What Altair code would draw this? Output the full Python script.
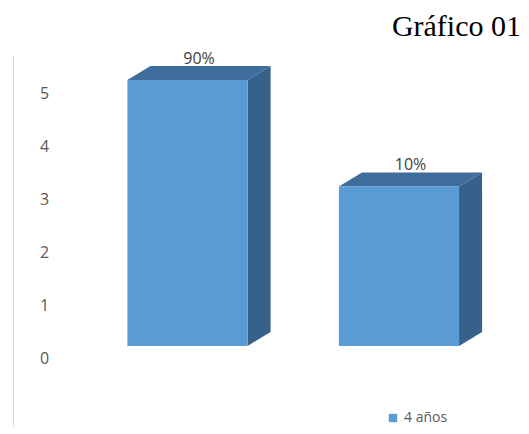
import altair as alt
import pandas as pd

# ---- data ----
categories = ["Grupo 1", "Grupo 2"]
values = [5, 3]
pct_labels = ["90%", "10%"]
series_name = "4 años"
y_ticks = [0, 1, 2, 3, 4, 5]

# ---- style constants (bar geometry in data units) ----
HALF_W = 0.284   # half width of bar front face (x units)
DX = 0.109       # 3D depth horizontally (x units)
DY = 0.263       # 3D depth vertically (y units)

idx = list(range(len(categories)))

front = pd.DataFrame({
    "cat": categories,
    "x0": [i - HALF_W for i in idx],
    "x1": [i + HALF_W for i in idx],
    "y0": [0 for _ in values],
    "y1": values,
    "serie": [series_name] * len(values),
})

side_rows = []
top_rows = []
for c, i, v in zip(categories, idx, values):
    side_rows.append({"cat": c, "x": i + HALF_W, "ya": v, "yb": 0})
    side_rows.append({"cat": c, "x": i + HALF_W + DX, "ya": v + DY, "yb": DY})
    top_rows.append({"cat": c, "y": v, "xa": i - HALF_W, "xb": i + HALF_W})
    top_rows.append({"cat": c, "y": v + DY, "xa": i - HALF_W + DX, "xb": i + HALF_W + DX})
side = pd.DataFrame(side_rows)
top = pd.DataFrame(top_rows)

labels_df = pd.DataFrame({
    "cat": categories,
    "x": [i + DX / 2 for i in idx],
    "y": [v + DY for v in values],
    "label": pct_labels,
})

xscale = alt.Scale(domain=[-0.825, 1.577], nice=False, zero=False)
yscale = alt.Scale(domain=[-1.504, 5.47], nice=False, zero=False)

yaxis = alt.Axis(
    values=y_ticks, format="d", grid=False, ticks=False, tickSize=0,
    labelAlign="center", labelPadding=-31, labelOffset=13,
    labelFont="Open Sans", labelFontSize=16, labelColor="#595959",
    domainColor="#d9d9d9", domainWidth=1, title=None,
)

side_layer = alt.Chart(side).mark_area(orient="vertical", color="#37618b").encode(
    x=alt.X("x:Q", scale=xscale, axis=None),
    y=alt.Y("ya:Q", scale=yscale, axis=yaxis),
    y2="yb:Q",
    detail="cat:N",
)

top_layer = alt.Chart(top).mark_area(orient="horizontal", color="#3e6c9b").encode(
    y=alt.Y("y:Q", scale=yscale),
    x=alt.X("xa:Q", scale=xscale, axis=None),
    x2="xb:Q",
    detail="cat:N",
)

front_layer = alt.Chart(front).mark_rect(strokeWidth=0).encode(
    x=alt.X("x0:Q", scale=xscale, axis=None),
    x2="x1:Q",
    y=alt.Y("y0:Q", scale=yscale),
    y2="y1:Q",
    color=alt.Color(
        "serie:N",
        scale=alt.Scale(domain=[series_name], range=["#5b9bd5"]),
        legend=alt.Legend(
            title=None, orient="none", legendX=373, legendY=356,
            symbolType="square", symbolSize=70, symbolStrokeWidth=0,
            labelFont="Open Sans", labelFontSize=14, labelColor="#595959",
        ),
    ),
)

text_layer = alt.Chart(labels_df).mark_text(
    baseline="bottom", dy=1, font="Open Sans", fontSize=16, color="#404040"
).encode(
    x=alt.X("x:Q", scale=xscale, axis=None),
    y=alt.Y("y:Q", scale=yscale),
    text="label:N",
)

chart = alt.layer(side_layer, top_layer, front_layer, text_layer).properties(
    width=508,
    height=371,
    padding={"left": 5, "top": 47, "right": 0, "bottom": 0},
    autosize=alt.AutoSizeParams(type="none"),
    background="#ffffff",
    title=alt.TitleParams(
        "Gráfico 01", anchor="end", font="Liberation Serif", fontSize=30,
        fontWeight="normal", color="#000000", baseline="alphabetic", offset=0, dy=15,
    ),
).configure_view(strokeWidth=0, stroke="transparent")

chart.save("out.html", embed_options={"renderer": "svg", "actions": False})
